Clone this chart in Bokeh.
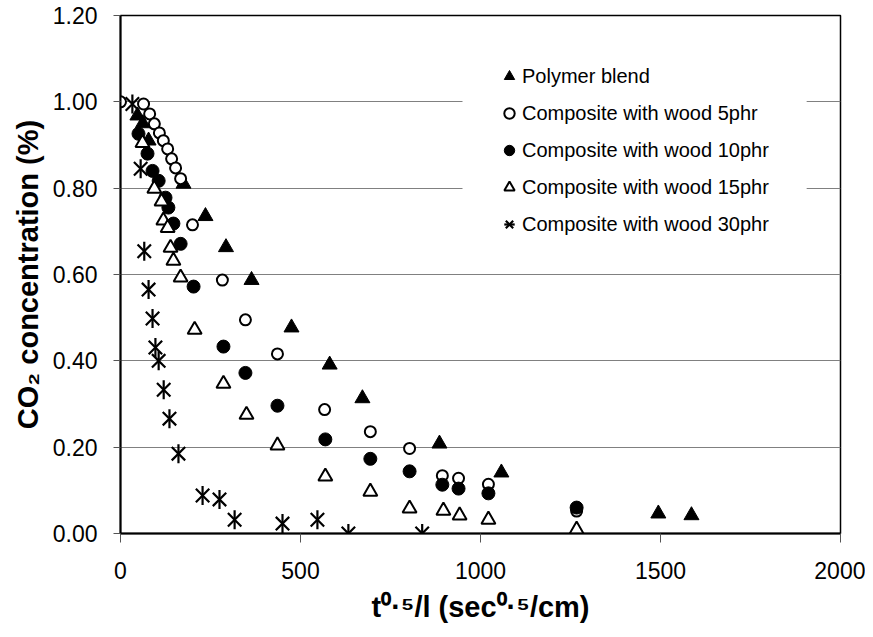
from bokeh.plotting import figure
from bokeh.models import (FixedTicker, PrintfTickFormatter, Legend, LegendItem,
                          BoxAnnotation, Range1d)
from bokeh.embed import file_html
from bokeh.resources import INLINE
import math

# ---- data ----
poly_x = [47, 62, 78, 175, 236, 293, 364, 475, 581, 672, 886, 1058, 1494, 1586]
poly_y = [0.968, 0.950, 0.910, 0.810, 0.735, 0.663, 0.587, 0.477, 0.391, 0.313, 0.208, 0.141, 0.046, 0.042]

w5_x = [0, 64, 81, 94, 108, 119, 131, 142, 153, 167, 200, 283, 347, 436, 567, 694, 803, 894, 939, 1022, 1267]
w5_y = [1.000, 0.995, 0.972, 0.949, 0.928, 0.910, 0.891, 0.868, 0.847, 0.822, 0.715, 0.587, 0.495, 0.416,
        0.287, 0.236, 0.197, 0.134, 0.128, 0.114, 0.052]

w10_x = [50, 75, 89, 106, 125, 133, 147, 167, 203, 286, 347, 436, 569, 694, 803, 894, 939, 1022, 1267]
w10_y = [0.926, 0.880, 0.840, 0.817, 0.778, 0.755, 0.718, 0.671, 0.572, 0.433, 0.372, 0.296, 0.218,
         0.173, 0.144, 0.113, 0.104, 0.093, 0.060]

w15_x = [61, 94, 114, 119, 131, 139, 147, 167, 206, 286, 350, 436, 569, 694, 803, 897, 942, 1022, 1267]
w15_y = [0.905, 0.799, 0.769, 0.725, 0.708, 0.662, 0.632, 0.593, 0.472, 0.347, 0.275, 0.204, 0.132,
         0.097, 0.058, 0.053, 0.042, 0.032, 0.009]

w30_x = [33, 56, 66, 78, 89, 97, 106, 120, 136, 161, 228, 275, 317, 450, 547, 633, 838]
w30_y = [0.995, 0.845, 0.654, 0.565, 0.498, 0.431, 0.400, 0.333, 0.266, 0.185, 0.088, 0.079, 0.032,
         0.023, 0.032, 0.000, 0.000]

x_ticks = [0, 500, 1000, 1500, 2000]
y_ticks = [0.0, 0.2, 0.4, 0.6, 0.8, 1.0, 1.2]

labels = ["Polymer blend", "Composite with wood 5phr", "Composite with wood 10phr",
          "Composite with wood 15phr", "Composite with wood 30phr"]

x_title = "t\u2070\u00b7\u2075/l (sec\u2070\u00b7\u2075/cm)"
y_title = "CO\u2082 concentration (%)"

FONT = "Liberation Sans"

p = figure(width=865, height=630, output_backend="svg", toolbar_location=None,
           x_range=Range1d(0, 2000), y_range=Range1d(0, 1.2),
           min_border_left=120, min_border_right=25, min_border_top=15, min_border_bottom=97)
p.background_fill_color = "white"
p.border_fill_color = "white"
p.outline_line_color = "black"
p.outline_line_width = 1.5

p.xgrid.visible = False
p.ygrid.grid_line_color = "#808080"
p.ygrid.grid_line_width = 1.2

p.xaxis.ticker = FixedTicker(ticks=x_ticks)
p.yaxis.ticker = FixedTicker(ticks=y_ticks)
p.yaxis.formatter = PrintfTickFormatter(format="%.2f")
for ax in (p.xaxis, p.yaxis):
    ax.axis_line_color = "black"
    ax.axis_line_width = 2
    ax.major_tick_in = 0
    ax.minor_tick_out = 0
    ax.minor_tick_in = 0
    ax.major_tick_line_color = "#555555"
    ax.major_tick_line_width = 1
    ax.major_label_text_font = FONT
    ax.major_label_text_font_size = "23px"
    ax.major_label_text_color = "black"
    ax.axis_label_text_font = FONT
    ax.axis_label_text_font_style = "bold"
    ax.axis_label_text_font_size = "29px"
    ax.axis_label_text_color = "black"
p.yaxis.major_tick_out = 7
p.yaxis.major_label_standoff = 16
p.xaxis.major_tick_out = 9
p.xaxis.major_label_standoff = 19

p.yaxis.axis_label = y_title
p.yaxis.axis_label_standoff = 6
p.xaxis.axis_label = x_title
p.xaxis.axis_label_standoff = 9

# legend background (white area hiding the grid lines)
p.add_layout(BoxAnnotation(left=950, right=1906, top=1.111, bottom=0.668,
                           fill_color="white", fill_alpha=1.0, line_alpha=0))

r_poly = p.scatter(poly_x, poly_y, marker="triangle", size=15, fill_color="black",
                   line_color="black", line_width=1)
r_w5 = p.scatter(w5_x, w5_y, marker="circle", size=11, fill_color="white",
                 line_color="black", line_width=2)
r_w10 = p.scatter(w10_x, w10_y, marker="circle", size=13, fill_color="black",
                  line_color="black", line_width=1)
r_w15 = p.scatter(w15_x, w15_y, marker="triangle", size=14, fill_color="white",
                  line_color="black", line_width=2)
r_w30a = p.scatter(w30_x, w30_y, marker="x", size=19, line_color="black", line_width=2.2)
r_w30b = p.scatter(w30_x, w30_y, marker="dash", size=19, angle=math.pi / 2,
                   line_color="black", line_width=2.2)

legend = Legend(items=[
    LegendItem(label=labels[0], renderers=[r_poly]),
    LegendItem(label=labels[1], renderers=[r_w5]),
    LegendItem(label=labels[2], renderers=[r_w10]),
    LegendItem(label=labels[3], renderers=[r_w15]),
    LegendItem(label=labels[4], renderers=[r_w30a, r_w30b]),
], location=(366, 285))
legend.background_fill_alpha = 0
legend.border_line_alpha = 0
legend.label_text_font = FONT
legend.label_text_font_size = "20px"
legend.label_text_color = "black"
legend.glyph_width = 26
legend.glyph_height = 28
legend.label_height = 20
legend.label_standoff = 0
legend.spacing = 9
legend.padding = 10
legend.margin = 0
p.add_layout(legend)

open("out.html", "w").write(file_html(p, INLINE))
